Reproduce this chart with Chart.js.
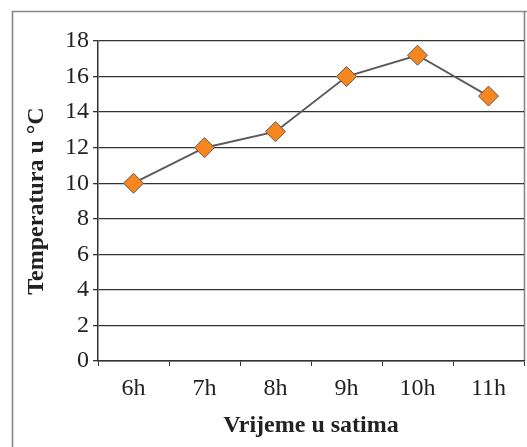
<!DOCTYPE html>
<html>
<head>
<meta charset="utf-8">
<script src="https://cdn.jsdelivr.net/npm/chart.js@4"></script>
<style>
  html, body { margin: 0; padding: 0; background: #fff; }
  #wrap { position: relative; width: 527px; height: 447px; }
</style>
</head>
<body>
<div id="wrap"><canvas id="c" width="527" height="447"></canvas></div>
<script>
// Hourly temperature readings
const hours = ['6h', '7h', '8h', '9h', '10h', '11h'];
const temperatures = [10, 12, 12.9, 16, 17.2, 14.9];
const yTicks = [0, 2, 4, 6, 8, 10, 12, 14, 16, 18];

const serif = "'Liberation Serif', 'Times New Roman', serif";

// Gray frame around the figure (left, top, right)
const framePlugin = {
  id: 'frame',
  beforeDraw(chart) {
    const ctx = chart.ctx;
    const area = chart.chartArea;
    ctx.save();
    ctx.strokeStyle = '#888';
    ctx.lineWidth = 1.6;
    ctx.beginPath();
    ctx.moveTo(12.5, 447);
    ctx.lineTo(12.5, 11.5);
    ctx.lineTo(527, 11.5);
    ctx.moveTo(area.right + 0.5, 11.5);
    ctx.lineTo(area.right + 0.5, area.bottom);
    ctx.stroke();
    ctx.restore();
  }
};

new Chart(document.getElementById('c'), {
  type: 'line',
  data: {
    labels: hours,
    datasets: [{
      data: temperatures,
      borderColor: '#5a5a5a',
      borderWidth: 2,
      pointStyle: 'rectRot',
      pointRadius: 10,
      pointBackgroundColor: '#f7861e',
      pointBorderColor: '#5a5a5a',
      pointBorderWidth: 1,
      tension: 0,
      clip: false
    }]
  },
  options: {
    responsive: false,
    animation: false,
    layout: { autoPadding: false, padding: { top: 41, right: 3, left: 12, bottom: 0 } },
    plugins: { legend: { display: false }, tooltip: { enabled: false } },
    scales: {
      x: {
        offset: true,
        grid: {
          offset: true,
          drawOnChartArea: false,
          drawTicks: true,
          tickLength: 5,
          color: '#333',
          lineWidth: 1
        },
        border: { color: '#333', width: 1.5 },
        ticks: { color: '#222', font: { family: serif, size: 24 }, padding: 8 },
        title: {
          display: true,
          text: 'Vrijeme u satima',
          color: '#222',
          font: { family: serif, size: 24, weight: 'bold' },
          padding: { top: 4, bottom: 7 }
        },
        afterFit(s) { s.height = 86; s.paddingLeft = 0; s.paddingRight = 0; }
      },
      y: {
        min: 0,
        max: 18,
        afterBuildTicks(s) { s.ticks = yTicks.map(v => ({ value: v })); },
        grid: {
          color: '#333',
          lineWidth: 1.3,
          drawTicks: true,
          tickLength: 5
        },
        border: { color: '#333', width: 1.5 },
        ticks: { color: '#222', font: { family: serif, size: 24 }, padding: 4 },
        title: {
          display: true,
          text: 'Temperatura u °C',
          color: '#222',
          font: { family: serif, size: 24, weight: 'bold' },
          padding: { top: 10, bottom: 0 }
        },
        afterFit(s) { s.width = 86; }
      }
    }
  },
  plugins: [framePlugin]
});
</script>
</body>
</html>
